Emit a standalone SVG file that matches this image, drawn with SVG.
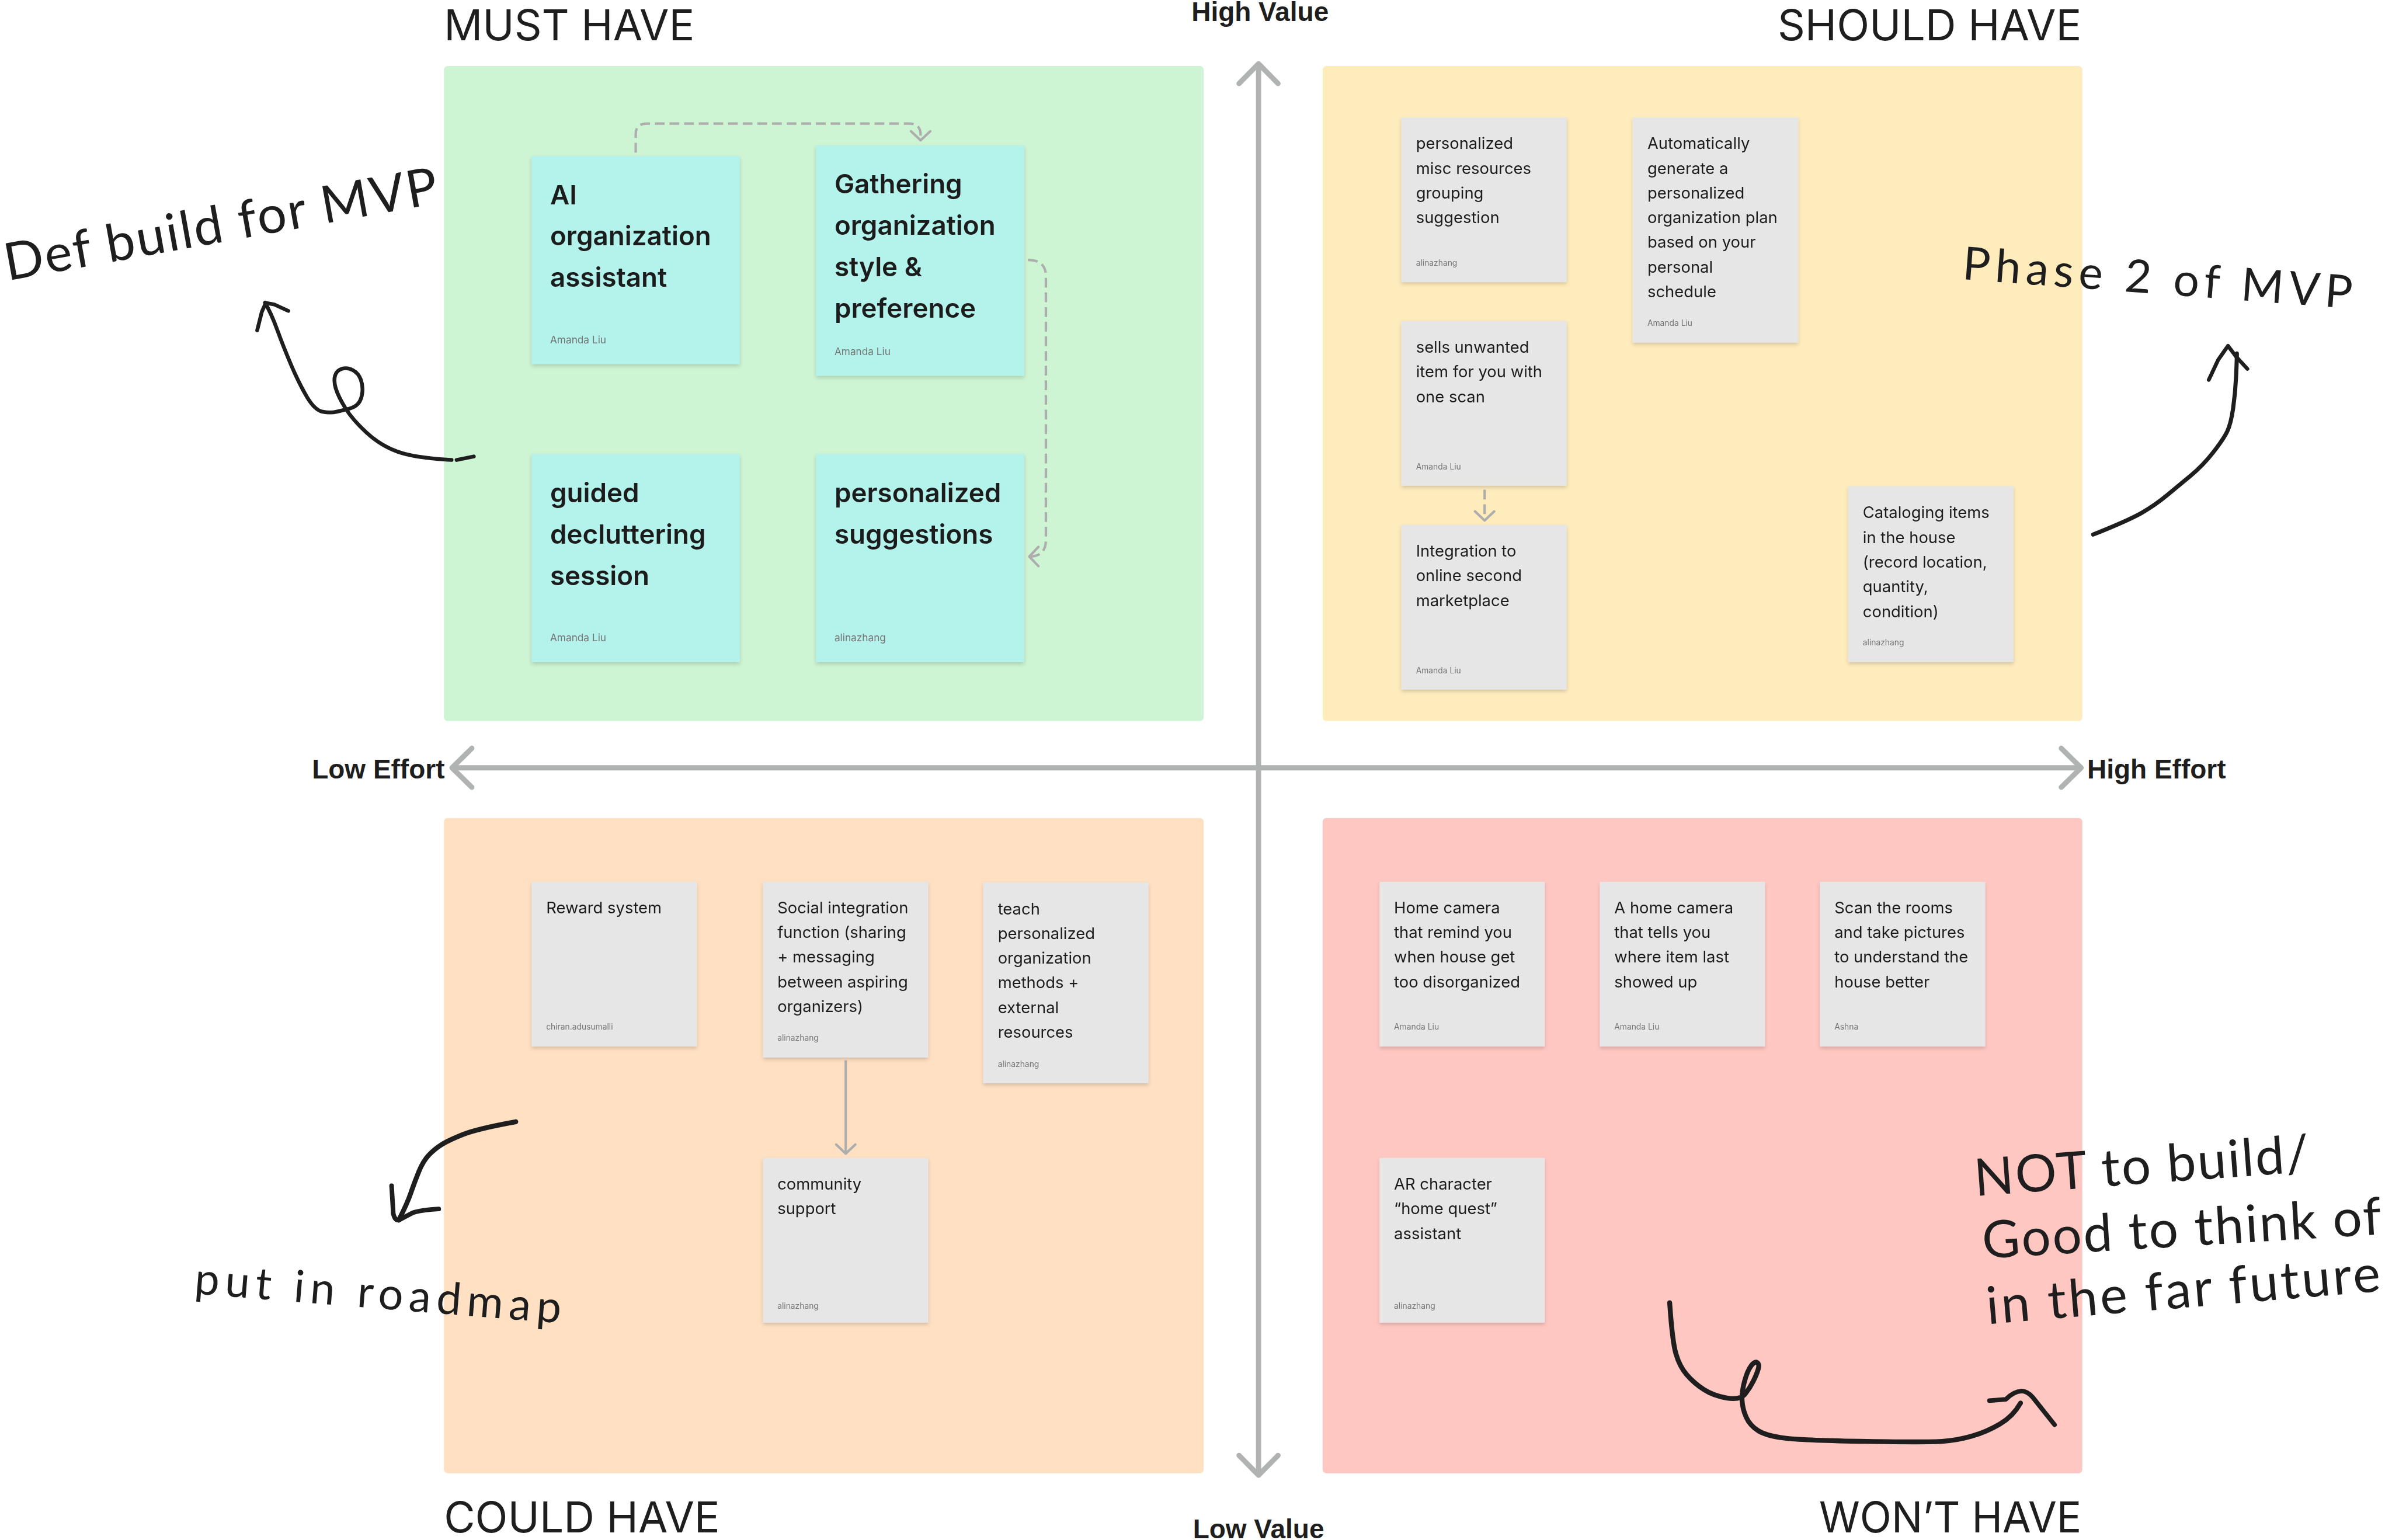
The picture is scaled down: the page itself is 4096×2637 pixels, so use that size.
<svg xmlns="http://www.w3.org/2000/svg" width="4096" height="2637" viewBox="0 0 4096 2637">
<defs>
<style>
.quad{stroke:none}
.cc{fill:#B3F3EC}
.cg{fill:#E6E6E6}
.tb{font-family:Inter,"Liberation Sans",sans-serif;font-weight:600;font-size:17.5px;fill:#1e1e1e}
.ts{font-family:Inter,"Liberation Sans",sans-serif;font-weight:400;font-size:10.5px;fill:#1e1e1e}
.ab{font-family:Inter,"Liberation Sans",sans-serif;font-size:6.6px;fill:#757575}
.as{font-family:Inter,"Liberation Sans",sans-serif;font-size:5.3px;fill:#757575}
.head{font-family:Inter,"Liberation Sans",sans-serif;font-weight:400;font-size:28px;fill:#1e1e1e}
.axl{font-family:"Liberation Sans",Arial,sans-serif;font-weight:700;font-size:17.6px;fill:#1e1e1e}
.hand{font-family:Lato,"Open Sans",sans-serif;font-weight:400;fill:#1e1e1e}
.ink{fill:none;stroke:#1e1e1e;stroke-linecap:round;stroke-linejoin:round}
.conn{fill:none;stroke:#ADADAD;stroke-width:1.6}
.dash{stroke-dasharray:6.4 3.2}
.axis{fill:none;stroke:#B1B3B2;stroke-width:3.4}
</style>
<filter id="sh" x="-10%" y="-10%" width="120%" height="130%">
<feDropShadow dx="0" dy="1.3" stdDeviation="1.2" flood-color="#000" flood-opacity="0.16"/>
</filter>
<marker id="ah" markerUnits="userSpaceOnUse" markerWidth="14" markerHeight="14" refX="0" refY="0" orient="auto" overflow="visible">
<path d="M-6,-6.3 L0,0 L-6,6.3" fill="none" stroke="#ADADAD" stroke-width="1.6" stroke-linecap="round" stroke-linejoin="round"/>
</marker>
<marker id="axh" markerUnits="userSpaceOnUse" markerWidth="30" markerHeight="30" refX="0" refY="0" orient="auto-start-reverse" overflow="visible">
<path d="M-13,-12.8 L0,0 L-13,12.8" fill="none" stroke="#B1B3B2" stroke-width="3.4" stroke-linecap="round" stroke-linejoin="round"/>
</marker>
</defs>
<rect width="4096" height="2637" fill="#ffffff"/>
<g transform="scale(2.61224)">

<g id="quadrants">
<rect class="quad" x="291" y="43.3" width="498" height="429.3" rx="2.5" fill="#CDF4D3"/>
<rect class="quad" x="867" y="43.3" width="498" height="429.3" rx="2.5" fill="#FFECBD"/>
<rect class="quad" x="291" y="536.2" width="498" height="429.5" rx="2.5" fill="#FFE0C2"/>
<rect class="quad" x="867" y="536.2" width="498" height="429.5" rx="2.5" fill="#FFC7C2"/>
</g>

<g id="headings">
<text class="head" x="291" y="26.3">MUST HAVE</text>
<text class="head" x="1364.5" y="26.3" text-anchor="end">SHOULD HAVE</text>
<text class="head" x="291" y="1004.5">COULD HAVE</text>
<text class="head" x="1364.5" y="1004.5" text-anchor="end" textLength="172" lengthAdjust="spacingAndGlyphs">WON’T HAVE</text>
</g>

<g id="axes">
<path class="axis" d="M825,41.8 V967" marker-start="url(#axh)" marker-end="url(#axh)"/>
<path class="axis" d="M296.3,503.3 H1364.2" marker-start="url(#axh)" marker-end="url(#axh)"/>
<text class="axl" x="826" y="13.9" text-anchor="middle">High Value</text>
<text class="axl" x="825" y="1008.5" text-anchor="middle">Low Value</text>
<text class="axl" x="291.5" y="510.3" text-anchor="end">Low Effort</text>
<text class="axl" x="1368.2" y="510.2">High Effort</text>
</g>

<g id="connectors">
<path class="conn dash" d="M416.7,100 V88 Q416.7,81 424,81 H596 Q603.5,81 603.5,88.5 V92" marker-end="url(#ah)"/>
<path class="conn dash" d="M673.8,170.4 Q685.6,170.4 685.6,181 V354 Q685.6,364.8 674.7,364.8" marker-end="url(#ah)"/>
<path class="conn dash" d="M973.2,321 V341.2" marker-end="url(#ah)"/>
<path class="conn" d="M554.4,695.1 V756.2" marker-end="url(#ah)"/>
</g>

<g id="card-ai-assistant" filter="url(#sh)">
<rect class="cc" x="348.5" y="102.4" width="136.4" height="136.3"/>
<text class="tb"><tspan x="360.6" y="133.8">AI</tspan><tspan x="360.6" y="160.9">organization</tspan><tspan x="360.6" y="188">assistant</tspan></text>
<text class="ab" x="360.6" y="225.2">Amanda Liu</text>
</g>
<g id="card-gathering-style" filter="url(#sh)">
<rect class="cc" x="534.9" y="95.4" width="136.4" height="150.9"/>
<text class="tb"><tspan x="547" y="126.9">Gathering</tspan><tspan x="547" y="154">organization</tspan><tspan x="547" y="181.1">style &amp;</tspan><tspan x="547" y="208.2">preference</tspan></text>
<text class="ab" x="547" y="232.6">Amanda Liu</text>
</g>
<g id="card-guided-decluttering" filter="url(#sh)">
<rect class="cc" x="348.5" y="297.6" width="136.4" height="136.4"/>
<text class="tb"><tspan x="360.6" y="329.3">guided</tspan><tspan x="360.6" y="356.4">decluttering</tspan><tspan x="360.6" y="383.5">session</tspan></text>
<text class="ab" x="360.6" y="420.4">Amanda Liu</text>
</g>
<g id="card-personalized-suggestions" filter="url(#sh)">
<rect class="cc" x="534.9" y="297.6" width="136.4" height="136.4"/>
<text class="tb"><tspan x="547" y="329.3">personalized</tspan><tspan x="547" y="356.4">suggestions</tspan></text>
<text class="ab" x="547" y="420.4">alinazhang</text>
</g>

<g id="card-misc-resources" filter="url(#sh)">
<rect class="cg" x="918.6" y="76.9" width="108.4" height="108"/>
<text class="ts"><tspan x="928.2" y="97.7">personalized</tspan><tspan x="928.2" y="113.9">misc resources</tspan><tspan x="928.2" y="130.1">grouping</tspan><tspan x="928.2" y="146.3">suggestion</tspan></text>
<text class="as" x="928.2" y="174">alinazhang</text>
</g>
<g id="card-auto-plan" filter="url(#sh)">
<rect class="cg" x="1070.3" y="76.9" width="108.4" height="147.7"/>
<text class="ts"><tspan x="1079.9" y="97.7">Automatically</tspan><tspan x="1079.9" y="113.9">generate a</tspan><tspan x="1079.9" y="130.1">personalized</tspan><tspan x="1079.9" y="146.3">organization plan</tspan><tspan x="1079.9" y="162.5">based on your</tspan><tspan x="1079.9" y="178.7">personal</tspan><tspan x="1079.9" y="194.9">schedule</tspan></text>
<text class="as" x="1079.9" y="213.8">Amanda Liu</text>
</g>
<g id="card-sells-unwanted" filter="url(#sh)">
<rect class="cg" x="918.6" y="210.4" width="108.4" height="108"/>
<text class="ts"><tspan x="928.2" y="231.2">sells unwanted</tspan><tspan x="928.2" y="247.4">item for you with</tspan><tspan x="928.2" y="263.6">one scan</tspan></text>
<text class="as" x="928.2" y="307.6">Amanda Liu</text>
</g>
<g id="card-marketplace" filter="url(#sh)">
<rect class="cg" x="918.6" y="344" width="108.4" height="108"/>
<text class="ts"><tspan x="928.2" y="364.8">Integration to</tspan><tspan x="928.2" y="381">online second</tspan><tspan x="928.2" y="397.2">marketplace</tspan></text>
<text class="as" x="928.2" y="441.2">Amanda Liu</text>
</g>
<g id="card-cataloging" filter="url(#sh)">
<rect class="cg" x="1211.5" y="318.7" width="108.4" height="115.3"/>
<text class="ts"><tspan x="1221.1" y="339.7">Cataloging items</tspan><tspan x="1221.1" y="355.9">in the house</tspan><tspan x="1221.1" y="372.1">(record location,</tspan><tspan x="1221.1" y="388.3">quantity,</tspan><tspan x="1221.1" y="404.5">condition)</tspan></text>
<text class="as" x="1221.1" y="423.1">alinazhang</text>
</g>

<g id="card-reward" filter="url(#sh)">
<rect class="cg" x="348.5" y="578" width="108.3" height="108"/>
<text class="ts"><tspan x="358" y="598.6">Reward system</tspan></text>
<text class="as" x="358" y="675">chiran.adusumalli</text>
</g>
<g id="card-social" filter="url(#sh)">
<rect class="cg" x="500.2" y="578" width="108.3" height="115.2"/>
<text class="ts"><tspan x="509.6" y="598.6">Social integration</tspan><tspan x="509.6" y="614.8">function (sharing</tspan><tspan x="509.6" y="631">+ messaging</tspan><tspan x="509.6" y="647.2">between aspiring</tspan><tspan x="509.6" y="663.4">organizers)</tspan></text>
<text class="as" x="509.6" y="682.2">alinazhang</text>
</g>
<g id="card-teach" filter="url(#sh)">
<rect class="cg" x="644.6" y="578.5" width="108.3" height="131.6"/>
<text class="ts"><tspan x="654.1" y="599.3">teach</tspan><tspan x="654.1" y="615.5">personalized</tspan><tspan x="654.1" y="631.7">organization</tspan><tspan x="654.1" y="647.9">methods +</tspan><tspan x="654.1" y="664.1">external</tspan><tspan x="654.1" y="680.3">resources</tspan></text>
<text class="as" x="654.1" y="699.3">alinazhang</text>
</g>
<g id="card-community" filter="url(#sh)">
<rect class="cg" x="500.2" y="759" width="108.3" height="108"/>
<text class="ts"><tspan x="509.6" y="779.8">community</tspan><tspan x="509.6" y="796">support</tspan></text>
<text class="as" x="509.6" y="857.9">alinazhang</text>
</g>

<g id="card-home-camera-remind" filter="url(#sh)">
<rect class="cg" x="904.3" y="578" width="108.3" height="108"/>
<text class="ts"><tspan x="913.8" y="598.6">Home camera</tspan><tspan x="913.8" y="614.8">that remind you</tspan><tspan x="913.8" y="631">when house get</tspan><tspan x="913.8" y="647.2">too disorganized</tspan></text>
<text class="as" x="913.8" y="675">Amanda Liu</text>
</g>
<g id="card-home-camera-item" filter="url(#sh)">
<rect class="cg" x="1048.7" y="578" width="108.3" height="108"/>
<text class="ts"><tspan x="1058.2" y="598.6">A home camera</tspan><tspan x="1058.2" y="614.8">that tells you</tspan><tspan x="1058.2" y="631">where item last</tspan><tspan x="1058.2" y="647.2">showed up</tspan></text>
<text class="as" x="1058.2" y="675">Amanda Liu</text>
</g>
<g id="card-scan-rooms" filter="url(#sh)">
<rect class="cg" x="1193" y="578" width="108.4" height="108"/>
<text class="ts"><tspan x="1202.5" y="598.6">Scan the rooms</tspan><tspan x="1202.5" y="614.8">and take pictures</tspan><tspan x="1202.5" y="631">to understand the</tspan><tspan x="1202.5" y="647.2">house better</tspan></text>
<text class="as" x="1202.5" y="675">Ashna</text>
</g>
<g id="card-ar-character" filter="url(#sh)">
<rect class="cg" x="904.3" y="759" width="108.3" height="108"/>
<text class="ts"><tspan x="913.8" y="779.8">AR character</tspan><tspan x="913.8" y="796">“home quest”</tspan><tspan x="913.8" y="812.2">assistant</tspan></text>
<text class="as" x="913.8" y="857.9">alinazhang</text>
</g>

<g id="annotations">
<text class="hand" font-size="34" transform="translate(5,184) rotate(-10.2)" textLength="288" lengthAdjust="spacing">Def build for MVP</text>
<path class="ink" stroke-width="2.5" d="M296,301.5 Q271.8,300.1 260.55,296.05 Q249.3,292 240.1,283.45 Q230.9,274.9 226.3,267.35 Q221.7,259.8 220.15,254.75 Q218.6,249.7 219.65,246.2 Q220.7,242.7 224.25,241.7 Q227.8,240.7 231.4,242.7 Q235,244.7 236.5,248.75 Q238,252.8 237.5,257.3 Q237,261.8 234.95,264.35 Q232.9,266.9 228.85,267.9 Q224.8,268.9 220.7,269.9 Q216.6,270.9 211.5,269.9 Q206.4,268.9 201.3,260.35 Q196.2,251.8 191.05,239.7 Q185.9,227.6 181.85,216.5 Q177.8,205.4 173.7,198.4"/>
<path class="ink" stroke-width="2.5" d="M299.3,301.5 L310.6,299.2"/>
<path class="ink" stroke-width="2.5" d="M168.6,216.5 L171.6,204.5 L174.2,198.6 L179.8,199.6 L189,203.8"/>

<text class="hand" font-size="30" transform="translate(1286,183) rotate(4.3)" textLength="256" lengthAdjust="spacing">Phase 2 of MVP</text>
<path class="ink" stroke-width="2.7" d="M1372.1,350.4 Q1395.4,341.1 1404.15,336.05 Q1412.9,331 1420.65,324.55 Q1428.4,318.1 1436.25,311.6 Q1444.1,305.1 1450.85,296.45 Q1457.6,287.8 1460,282.8 Q1462.4,277.8 1463.85,267.7 Q1465.3,257.6 1465.8,246.8 Q1466.3,236 1466.3,231.7"/>
<path class="ink" stroke-width="2.5" d="M1447.9,249 L1454,236 L1460.5,226.7 L1466,234 L1473.2,241.8"/>

<text class="hand" font-size="29" transform="translate(127,848) rotate(4.6)" textLength="241" lengthAdjust="spacing">put in roadmap</text>
<path class="ink" stroke-width="3.2" d="M338.1,735.3 Q312.8,739.9 303.45,743.65 Q294.1,747.4 289.45,750.3 Q284.8,753.2 281.05,757.2 Q277.3,761.2 274.5,768.1 Q271.7,775 269.35,781.9 Q267,788.8 261.4,799.8"/>
<path class="ink" stroke-width="3" d="M256.7,777.3 L257.8,795.5 Q258.8,800 261.4,799.8 L270.5,795 Q276,793.2 287.6,792.5"/>

<text class="hand" font-size="34" transform="translate(1295,784) rotate(-4.2)" textLength="220" lengthAdjust="spacing">NOT to build/</text>
<text class="hand" font-size="34" transform="translate(1300,825) rotate(-3.5)" textLength="262" lengthAdjust="spacing">Good to think of</text>
<text class="hand" font-size="34" transform="translate(1303,868) rotate(-4.8)" textLength="259" lengthAdjust="spacing">in the far future</text>
<path class="ink" stroke-width="3.2" d="M1094.5,853.9 Q1096.2,878.9 1098.55,887.25 Q1100.9,895.6 1105.7,901.15 Q1110.5,906.7 1116.85,910.85 Q1123.2,915 1131.95,916.4 Q1140.7,917.8 1143.85,913.9 Q1147,910 1149.25,905.5 Q1151.5,901 1152.5,897.6 Q1153.5,894.2 1151.9,893.2 Q1150.3,892.2 1147.9,895.3 Q1145.5,898.4 1143.6,905.35 Q1141.7,912.3 1141.95,917.85 Q1142.2,923.4 1144.65,928.95 Q1147.1,934.5 1152.7,937.95 Q1158.3,941.4 1171,942.8 Q1183.7,944.2 1223.5,944.85 Q1263.3,945.5 1273,944.85 Q1282.7,944.2 1292.4,941.45 Q1302.1,938.7 1310.85,933.55 Q1319.6,928.4 1324.5,919.7"/>
<path class="ink" stroke-width="3" d="M1304.1,918.1 L1314.8,917.3 Q1320,912 1325.4,911.8 Q1329,912 1332.3,915.7 L1346.8,933.9"/>
</g>

</g>
</svg>
